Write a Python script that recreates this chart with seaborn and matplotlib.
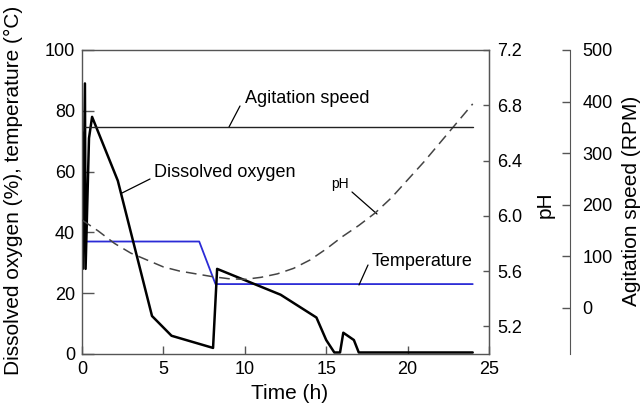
import numpy as np
import pandas as pd
import matplotlib
matplotlib.use("Agg")
import matplotlib.pyplot as plt
import seaborn as sns

# ---- data ----
do_time = [0, 0.05, 0.18, 0.22, 0.43, 0.62, 2.2, 4.3, 5.5, 8.05, 8.3, 12.2, 14.4, 15.0, 15.5, 15.85, 16.05, 16.7, 17.0, 24]
do_val = [73, 28, 89, 28, 71, 78, 57, 12.5, 6, 2, 28, 19.5, 12, 4.6, 0.5, 0.5, 7, 4.6, 0.5, 0.5]

temp_time = [0, 7.2, 8.2, 24]
temp_val = [37, 37, 23, 23]

ph_time = [0, 1, 2, 3, 4, 5, 6, 7, 8, 9, 10, 11, 12, 13, 14, 15, 16, 17, 18, 19, 20, 21, 22, 23, 24]
ph_val = [5.97, 5.89, 5.80, 5.73, 5.68, 5.63, 5.60, 5.58, 5.56, 5.545, 5.54, 5.555, 5.58, 5.62, 5.68,
          5.76, 5.85, 5.93, 6.02, 6.13, 6.26, 6.39, 6.53, 6.67, 6.81]

agit_time = [0.2, 24]
agit_rpm = [350, 350]

x_ticks = [0, 5, 10, 15, 20, 25]
left_ticks = [0, 20, 40, 60, 80, 100]
ph_ticks = [5.2, 5.6, 6.0, 6.4, 6.8, 7.2]
rpm_ticks = [0, 100, 200, 300, 400, 500]

# ---- style ----
sns.set_style("ticks")
plt.rcParams['font.family'] = ['Liberation Sans', 'DejaVu Sans']
plt.rcParams['text.color'] = 'black'
plt.rcParams['axes.labelcolor'] = 'black'
plt.rcParams['xtick.labelcolor'] = 'black'
plt.rcParams['ytick.labelcolor'] = 'black'
spine_c = '#555555'

fig = plt.figure(figsize=(6.42, 4.12), dpi=100)
ax = fig.add_axes([82/642, 1-354/412, (489-82)/642, (354-50)/412])
ax2 = ax.twinx()
ax3 = ax.twinx()

df_do = pd.DataFrame({'t': do_time, 'v': do_val})
df_temp = pd.DataFrame({'t': temp_time, 'v': temp_val})
df_ph = pd.DataFrame({'t': ph_time, 'v': ph_val})
df_ag = pd.DataFrame({'t': agit_time, 'v': agit_rpm})

sns.lineplot(data=df_temp, x='t', y='v', ax=ax, color='#2b2bd6', lw=1.3, estimator=None, sort=False)
sns.lineplot(data=df_do, x='t', y='v', ax=ax, color='black', lw=1.8, estimator=None, sort=False)
sns.lineplot(data=df_ph, x='t', y='v', ax=ax2, color='#444444', lw=1.1, estimator=None, sort=False,
             dashes=False)
ax2.lines[0].set_dashes([7, 4])
sns.lineplot(data=df_ag, x='t', y='v', ax=ax3, color='#222222', lw=1.0, estimator=None, sort=False)

fs = 13
lfs = 15
# main axis
ax.set_xlim(0, 25)
ax.set_ylim(0, 100)
ax.set_xticks(x_ticks)
ax.set_yticks(left_ticks)
ax.tick_params(axis='y', direction='in', length=8.6, width=1, color=spine_c, labelsize=fs, pad=5,
               labelcolor='black')
ax.tick_params(axis='x', direction='in', length=5.8, width=1, color=spine_c, labelsize=fs, pad=5,
               labelcolor='black')
for s in ['left', 'bottom', 'top', 'right']:
    ax.spines[s].set_color(spine_c)
    ax.spines[s].set_linewidth(1)
ax.set_xlabel('Time (h)', fontsize=lfs, color='black')
ax.set_ylabel('Dissolved oxygen (%), temperature (°C)', fontsize=lfs, color='black')
ax.xaxis.set_label_coords(0.511, -0.1)
ax.yaxis.set_label_coords((23 - 82) / 407, 0.539)

# pH axis
ax2.set_ylim(5.0, 7.2)
ax2.set_yticks(ph_ticks)
ax2.set_yticklabels([f'{v:.1f}' for v in ph_ticks])
ax2.tick_params(axis='y', direction='in', length=4.3, width=1, color=spine_c, labelsize=fs, pad=6,
                labelcolor='black')
for s in ['left', 'bottom', 'top']:
    ax2.spines[s].set_visible(False)
ax2.spines['right'].set_color(spine_c)
ax2.set_ylabel('pH', fontsize=lfs, color='black')
ax2.yaxis.set_label_coords((536 - 82) / 407, 0.49)

# agitation axis
ax3.set_ylim(-90, 500)
ax3.set_yticks(rpm_ticks)
ax3.spines['right'].set_position(('axes', (570 - 82) / 407))
for s in ['left', 'bottom', 'top']:
    ax3.spines[s].set_visible(False)
ax3.spines['right'].set_color(spine_c)
ax3.tick_params(axis='y', direction='in', length=5.8, width=1, color=spine_c, labelsize=fs, pad=9,
                labelcolor='black')
ax3.set_ylabel('Agitation speed (RPM)', fontsize=lfs, color='black')
ax3.yaxis.set_label_coords((622 - 82) / 407, 0.503)

# annotations
def px2d(px, py):
    return ((px - 82) / 16.28, (354 - py) / 3.04)

def label(text, tpos, l0, l1, size=13):
    x, y = px2d(*tpos)
    ax.text(x, y, text, fontsize=size, va='center', ha='left', color='black')
    a, b = px2d(*l0)
    c, d = px2d(*l1)
    ax.annotate('', xy=(c, d), xytext=(a, b),
                arrowprops=dict(arrowstyle='-', color='black', lw=0.9, shrinkA=0, shrinkB=0))

label('Agitation speed', (245, 99), (240, 106), (229, 127))
label('Dissolved oxygen', (154, 173), (150, 179), (122, 193))
label('Temperature', (372, 262), (368, 265), (359, 285))
label('pH', (331, 184), (352, 192), (377, 214), size=10)

fig.savefig('out.png', dpi=100)
